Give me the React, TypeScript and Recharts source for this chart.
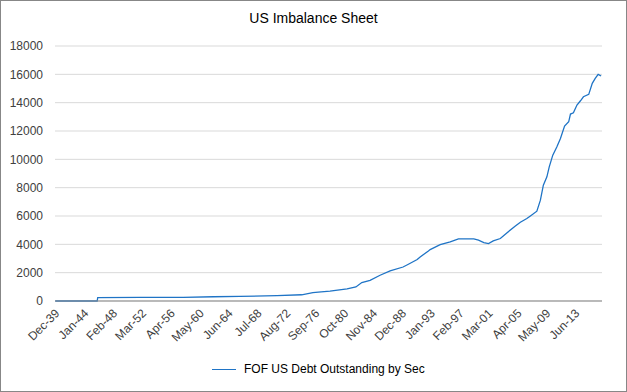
import React from "react";
import { LineChart, Line, XAxis, YAxis, CartesianGrid } from "recharts";

// month readings (YYYY-MM) and debt values ($bn)
const dates = [
  "1939-12", "1945-11", "1945-12", "1952-01", "1958-01", "1962-04", "1966-01",
  "1971-04", "1974-10", "1976-05", "1977-07", "1978-10", "1981-03", "1982-06",
  "1983-04", "1984-06", "1985-11", "1987-04", "1989-02", "1989-11", "1991-02",
  "1991-07", "1992-09", "1992-12", "1994-05", "1995-10", "1996-12", "1999-02",
  "1999-10", "2000-07", "2001-03", "2001-11", "2002-11", "2003-10", "2004-12",
  "2005-09", "2006-08", "2007-02", "2008-01", "2008-07", "2008-12", "2009-06",
  "2009-10", "2010-04", "2010-11", "2011-05", "2011-12", "2012-07", "2012-10",
  "2013-03", "2013-09", "2014-03", "2014-08", "2015-05", "2015-11", "2016-04",
  "2016-09", "2017-02",
];
const debt = [
  0, 0, 240, 250, 260, 300, 320,
  380, 440, 594, 650, 690, 850, 990,
  1300, 1463, 1816, 2120, 2400, 2594, 2925,
  3110, 3533, 3630, 3985, 4170, 4380, 4380,
  4290, 4127, 4056, 4240, 4410, 4806, 5279,
  5562, 5823, 6007, 6339, 7117, 8177, 8763,
  9470, 10297, 10883, 11477, 12346, 12650, 13194,
  13286, 13830, 14134, 14417, 14587, 15364, 15717,
  16000, 15880,
];
const tickLabels = [
  "Dec-39", "Jan-44", "Feb-48", "Mar-52", "Apr-56", "May-60", "Jun-64",
  "Jul-68", "Aug-72", "Sep-76", "Oct-80", "Nov-84", "Dec-88", "Jan-93",
  "Feb-97", "Mar-01", "Apr-05", "May-09", "Jun-13",
];
const yTicks = [0, 2000, 4000, 6000, 8000, 10000, 12000, 14000, 16000, 18000];

const LABEL_STEP = 49; // months between category labels
const LAST_MONTH = 927;

const monthIndex = (d: string) => {
  const [y, m] = d.split("-").map(Number);
  return y * 12 + (m - 1) - (1939 * 12 + 11);
};

const data = dates.map((d, i) => ({ m: monthIndex(d), value: debt[i] }));
const xTicks = tickLabels.map((_, i) => i * LABEL_STEP);

const FONT = "'Liberation Sans', Arial, sans-serif";
const BLUE = "#1f74c6";
const TEXT = "#404040";

const XTick = (props: any) => {
  const { x, y, payload } = props;
  const label = tickLabels[Math.round(payload.value / LABEL_STEP)];
  const ax = x + 5;
  const ay = y + 5;
  return (
    <text
      x={ax}
      y={ay}
      transform={`rotate(-45, ${ax}, ${ay})`}
      textAnchor="end"
      fontSize={12}
      fontFamily={FONT}
      fill={TEXT}
    >
      {label}
    </text>
  );
};

export default function App() {
  return (
    <div
      style={{
        position: "relative",
        width: 627,
        height: 392,
        boxSizing: "border-box",
        border: "1px solid #878787",
        background: "#fff",
        fontFamily: FONT,
      }}
    >
      <style>{"body{margin:0}"}</style>
      <div
        style={{
          position: "absolute",
          top: 9,
          left: 0,
          width: 625,
          textAlign: "center",
          fontSize: 14,
          color: "#000",
        }}
      >
        US Imbalance Sheet
      </div>
      <LineChart
        width={625}
        height={390}
        data={data}
        margin={{ top: 45, right: 24, left: 0, bottom: 0 }}
      >
        <CartesianGrid vertical={false} stroke="#d9d9d9" />
        <XAxis
          type="number"
          dataKey="m"
          domain={[-0.5, LAST_MONTH + 0.5]}
          ticks={xTicks}
          interval={0}
          height={90}
          tickLine={false}
          stroke="#878787"
          tick={<XTick />}
          allowDataOverflow
        />
        <YAxis
          width={54}
          domain={[0, 18000]}
          ticks={yTicks}
          axisLine={false}
          tickLine={false}
          tickMargin={6}
          tick={{ fontSize: 12, fill: TEXT, fontFamily: FONT }}
        />
        <Line
          type="linear"
          dataKey="value"
          stroke={BLUE}
          strokeWidth={1.3}
          dot={false}
          isAnimationActive={false}
        />
      </LineChart>
      <div
        style={{
          position: "absolute",
          top: 361,
          left: 211,
          display: "flex",
          alignItems: "center",
          fontSize: 12,
          color: "#000",
        }}
      >
        <span
          style={{
            display: "inline-block",
            width: 24,
            height: 0,
            borderTop: `1.5px solid ${BLUE}`,
            marginRight: 8,
          }}
        />
        FOF US Debt Outstanding by Sec
      </div>
    </div>
  );
}
